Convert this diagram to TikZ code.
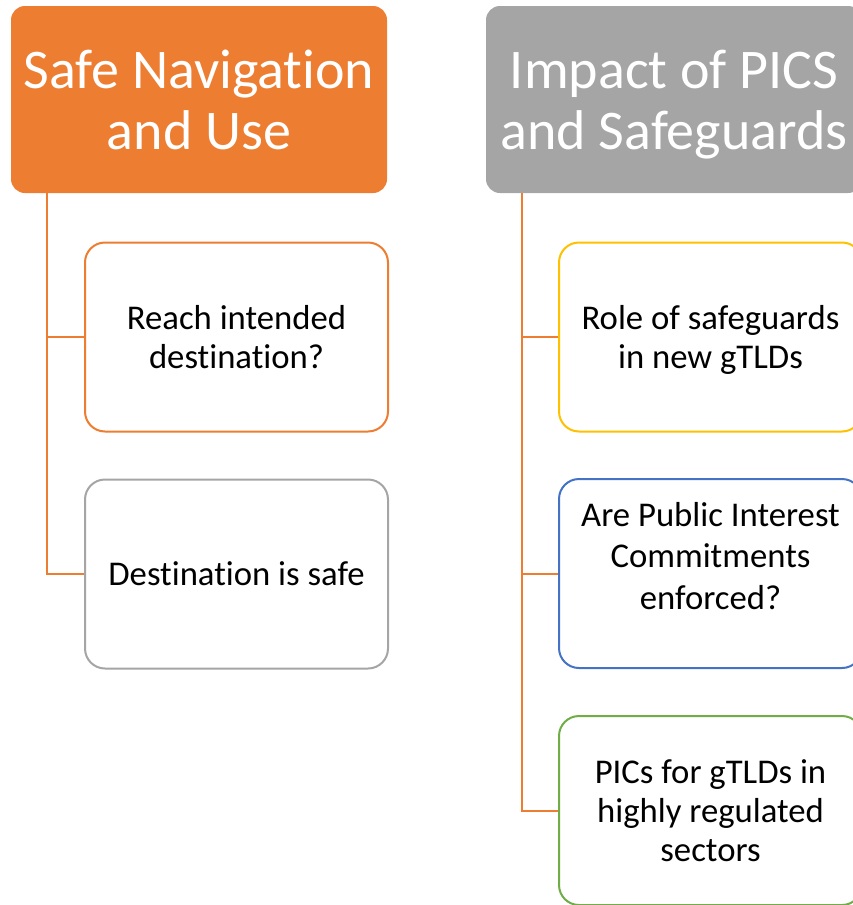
\documentclass[tikz,border=0pt]{standalone}
\usepackage{fontspec}
\setmainfont[Ligatures=NoCommon]{Carlito}
\definecolor{accorange}{HTML}{ED7D31}
\definecolor{accgray}{HTML}{A5A5A5}
\definecolor{accyellow}{HTML}{FFC000}
\definecolor{accblue}{HTML}{4472C4}
\definecolor{accgreen}{HTML}{70AD47}
\tikzset{
  header/.style={rectangle, rounded corners=14pt, minimum width=376pt, minimum height=187pt,
    inner sep=0pt},
  headtext/.style={inner sep=0pt, text=white, align=center, font=\fontsize{56}{61}\selectfont},
  child/.style={rectangle, rounded corners=20pt, minimum width=303pt, minimum height=189pt,
    inner sep=0pt, fill=white, line width=2pt},
  childtext/.style={inner sep=0pt, align=center, text=black,
    font=\fontsize{34.7}{39}\selectfont},
  conn/.style={draw=accorange, line width=2pt}
}
\begin{document}
\begin{tikzpicture}[x=1pt,y=-1pt]
\useasboundingbox (0,0) rectangle (852,905);
% headers
\node[header, fill=accorange] (h1) at (199,99.5) {};
\node[header, fill=accgray] (h2) at (674,99.5) {};
\node[headtext] (h1t) at (199,106.5) {\strut Safe Navigation\\\strut and Use};
\node[headtext] (h2t) at (674,106.5) {\strut Impact of PICS\\\strut and Safeguards};
% connector trunks
\coordinate (t1) at ([xshift=36pt]h1.south west);
\coordinate (t2) at ([xshift=36pt]h2.south west);
% children left
\node[child, draw=accorange] (l1) at (236.5,337) {};
\node[child, draw=accgray] (l2) at (236.5,574) {};
\node[childtext] (l1t) at (236.5,341) {\strut Reach intended\\\strut destination?};
\node[childtext] (l2t) at (236.5,578) {\strut Destination is safe};
% children right
\node[child, draw=accyellow] (r1) at (710.5,337) {};
\node[child, draw=accblue] (r2) at (710.5,573.5) {};
\node[child, draw=accgreen] (r3) at (710.5,810.5) {};
\node[childtext] (r1t) at (710.5,341) {\strut Role of safeguards\\\strut in new gTLDs};
\node[childtext, font=\fontsize{34.7}{41.5}\selectfont] (r2t) at (710.5,559.5) {\strut Are Public Interest\\\strut Commitments\\\strut enforced?};
\node[childtext] (r3t) at (710.5,814.5) {\strut PICs for gTLDs in\\\strut highly regulated\\\strut sectors};
% connectors
\draw[conn] (t1) |- (l1.west);
\draw[conn] (t1) |- (l2.west);
\draw[conn] (t2) |- (r1.west);
\draw[conn] (t2) |- (r2.west);
\draw[conn] (t2) |- (r3.west);
\end{tikzpicture}
\end{document}
